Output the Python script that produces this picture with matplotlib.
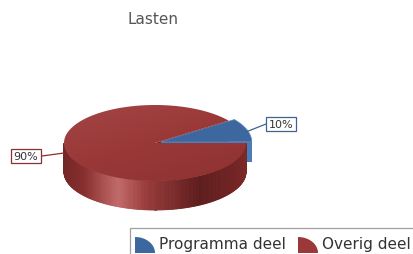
import numpy as np
import matplotlib.pyplot as plt
from matplotlib.patches import Polygon, Rectangle
from matplotlib.colors import LinearSegmentedColormap

# gegevens
title = "Lasten"
labels = ["Programma deel", "Overig deel"]
values = [10, 90]
top_colors = ["#3c679f", "#9b3939"]
wall_colors = ["#4b7cb8", "#8a2f2f"]
edge_colors = ["#3f628e", "#8b3030"]

# geometrie van de 3D taart (in pixels)
cx, cy = 155, 144
rx, ry = 91, 38
depth = 29
explode = [6, 0]

fig = plt.figure(figsize=(4.14, 2.55), dpi=100)
ax = fig.add_axes([0, 0, 1, 1])
ax.set_xlim(0, 414)
ax.set_ylim(255, 0)
ax.axis("off")


def rim(theta, off=(0, 0), z=0):
    t = np.radians(theta)
    return np.column_stack([cx + rx * np.cos(t) + off[0],
                            cy - ry * np.sin(t) + off[1] + z])


total = sum(values)
starts = np.cumsum([0] + values[:-1]) / total * 360
ends = np.cumsum(values) / total * 360
offs = []
for i in range(len(values)):
    mid = np.radians((starts[i] + ends[i]) / 2)
    offs.append((explode[i] * np.cos(mid), -explode[i] * np.sin(mid) * 0.6))

# snijvlak van het rode deel bij de start (zichtbaar in de kier)
p = rim(np.array([starts[1]]), offs[1])[0]
c = np.array([cx + offs[1][0], cy + offs[1][1]])
ax.add_patch(Polygon([c, p, p + [0, depth], c + [0, depth]], closed=True,
                     fc="#6e2222", ec="none", zorder=1))

# snijvlak van het blauwe deel bij 0 graden
p = rim(np.array([starts[0]]), offs[0])[0]
c = np.array([cx + offs[0][0], cy + offs[0][1]])
ax.add_patch(Polygon([c, p, p + [0, depth * 0.7], c + [0, depth * 0.7]], closed=True,
                     fc=wall_colors[0], ec="none", zorder=1))

# bovenvlak blauw
th = np.linspace(starts[0], ends[0], 40)
pts = np.vstack([[cx + offs[0][0], cy + offs[0][1]], rim(th, offs[0])])
ax.add_patch(Polygon(pts, closed=True, fc=top_colors[0], ec="#5a84b8", lw=0.5, zorder=2))

# zijkant rood (voorkant 180..360) met verloop
side_cmap = LinearSegmentedColormap.from_list(
    "side", [(0, "#742626"), (0.12, "#8a3030"), (0.3, "#c26a6a"),
             (0.45, "#9a3c3c"), (0.75, "#5e1c1c"), (1, "#7a2828")])
th = np.linspace(max(180, starts[1]), 360, 180)
for a0, a1 in zip(th[:-1], th[1:]):
    q = rim(np.array([a0, a1]), offs[1])
    x_rel = (q[:, 0].mean() - (cx - rx)) / (2 * rx)
    poly = np.vstack([q, q[::-1] + [0, depth]])
    ax.add_patch(Polygon(poly, closed=True, fc=side_cmap(x_rel),
                         ec=side_cmap(x_rel), lw=0.6, zorder=3))

# bovenvlak rood met licht verloop
th = np.linspace(starts[1], ends[1], 200)
pts = np.vstack([[cx + offs[1][0], cy + offs[1][1]], rim(th, offs[1])])
top_patch = Polygon(pts, closed=True, fc="none", ec="none", zorder=4)
ax.add_patch(top_patch)
top_cmap = LinearSegmentedColormap.from_list(
    "top", ["#a44444", "#9a3838", "#8e3232"])
yy, xx = np.mgrid[0:1:60j, 0:1:120j]
grad = 0.6 * yy + 0.4 * xx
im = ax.imshow(grad, cmap=top_cmap, extent=(cx - rx, cx + rx, cy + ry, cy - ry),
               aspect="auto", zorder=4, interpolation="bilinear")
im.set_clip_path(top_patch)
ax.set_xlim(0, 414)
ax.set_ylim(255, 0)

# percentage labels met lijntjes
pct = [f"{v / total * 100:.0f}%" for v in values]
lp = rim(np.array([20.0]), offs[0])[0]
ax.plot([lp[0], lp[0] + 10, 266], [lp[1] + 3, lp[1] - 1, 125],
        color=edge_colors[0], lw=0.9, zorder=5)
ax.text(281, 125, pct[0], ha="center", va="center", fontsize=8, color="#333333",
        bbox=dict(boxstyle="square,pad=0.2", fc="white", ec=edge_colors[0], lw=0.9),
        zorder=6)
lp = rim(np.array([180.0]), offs[1])[0]
ax.plot([42, lp[0]], [157, lp[1] + 10], color=edge_colors[1], lw=0.9, zorder=5)
ax.text(26, 157, pct[1], ha="center", va="center", fontsize=8, color="#333333",
        bbox=dict(boxstyle="square,pad=0.2", fc="white", ec=edge_colors[1], lw=0.9),
        zorder=6)

# titel
ax.text(153, 20, title, ha="center", va="center", fontsize=11, color="#555555")

# legenda
ax.add_patch(Rectangle((130, 229), 300, 40, fc="white", ec="#a0a0a0", lw=0.9, zorder=5))
t = np.radians(np.linspace(0, 90, 30))
for i, (lab, x0) in enumerate(zip(labels, [135, 298])):
    icon = np.vstack([[x0, 254], np.column_stack([x0 + 20 * np.sin(t), 254 - 16 * np.cos(t)])])
    ax.add_patch(Polygon(icon, closed=True, fc=top_colors[i], ec="none", zorder=6))
    ax.text(x0 + 24, 245, lab, ha="left", va="center", fontsize=11,
            color="#333333", zorder=6)

fig.savefig("out.png", dpi=100)
